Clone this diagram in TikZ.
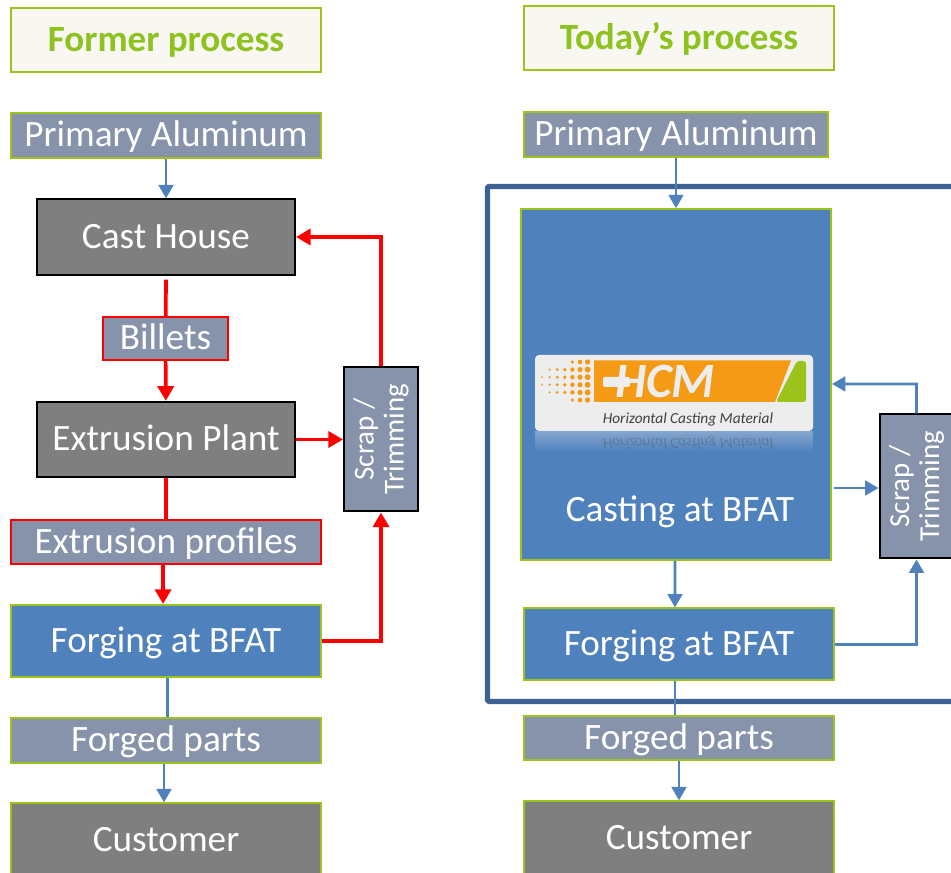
\documentclass[tikz,border=0pt]{standalone}
\usepackage{fontspec}
\setmainfont{Carlito}
\usetikzlibrary{arrows.meta,fadings}
\definecolor{boxgreen}{HTML}{9BC31C}
\definecolor{titlegreen}{HTML}{8DC21F}
\definecolor{titlefill}{HTML}{F8F7F1}
\definecolor{slate}{HTML}{8793AB}
\definecolor{darkgrey}{HTML}{7F7F7F}
\definecolor{flowblue}{HTML}{4F81BD}
\definecolor{framenavy}{HTML}{3D6291}
\definecolor{logoorange}{HTML}{F49A14}
\definecolor{logogrey}{HTML}{EDEDED}
\begin{document}
\begin{tikzpicture}[
    x=0.75pt,
    y=-0.75pt,
    basebox/.style={
        rectangle,
        inner sep=0pt,
        line width=1.5pt,
        text=white,
        font=\fontsize{27.9}{30}\selectfont,
        align=center,
        text height=18pt,
        text depth=1pt
    },
    titlebox/.style={
        basebox,
        draw=boxgreen,
        fill=titlefill,
        text=titlegreen,
        font=\fontsize{27.8}{30}\selectfont\bfseries,
        minimum width=232.5pt,
        minimum height=48pt
    },
    goods/.style={
        basebox,
        draw=boxgreen,
        fill=slate,
        minimum width=232.5pt,
        minimum height=33.5pt
    },
    redgoods/.style={
        goods,
        draw=red
    },
    plant/.style={
        basebox,
        draw=black,
        fill=darkgrey,
        minimum width=193.5pt,
        minimum height=56.5pt
    },
    customer/.style={
        basebox,
        draw=boxgreen,
        fill=darkgrey,
        minimum width=232.5pt,
        minimum height=55pt
    },
    forge/.style={
        basebox,
        draw=boxgreen,
        fill=flowblue,
        minimum width=232.5pt,
        minimum height=54pt
    },
    scrapbox/.style={
        basebox,
        draw=black,
        fill=slate,
        font=\fontsize{21.7}{22.5}\selectfont,
        text height=,
        text depth=,
        minimum width=108pt,
        minimum height=55.5pt,
        rotate=90
    },
    bluearrow/.style={
        -{Triangle[length=10pt,width=11pt]},
        draw=flowblue,
        line width=2pt
    },
    blueline/.style={
        draw=flowblue,
        line width=2pt
    },
    redarrow/.style={
        -{Triangle[length=11pt,width=12pt]},
        draw=red,
        line width=2.8pt
    },
    redline/.style={
        draw=red,
        line width=2.8pt
    }
]
\useasboundingbox (0,0) rectangle (951,873);

% Frame
\draw[framenavy, line width=3.8pt, rounded corners=1pt] (960,186.5) -- (487.5,186.5) -- (487.5,701.5) -- (960,701.5);

% Former process
\node[titlebox] (title1) at (166,40) {Former process};
\node[goods] (prim1) at (166,135.5) {Primary Aluminum};
\node[plant] (cast1) at (166,237) {Cast House};
\node[redgoods, minimum width=93.5pt, minimum height=32pt] (billets) at (165.5,338.5) {Billets};
\node[plant] (extr1) at (166,439.5) {Extrusion Plant};
\node[redgoods] (prof1) at (166,542) {Extrusion profiles};
\node[forge] (forg1) at (166,641) {Forging at BFAT};
\node[goods] (parts1) at (166,740.5) {Forged parts};
\node[customer] (cust1) at (166,840) {Customer};
\node[scrapbox] (scrap1) at (381,439.5) {Scrap /\\Trimming};

% Today's process
\node[titlebox] (title2) at (679,38) {Today’s process};
\node[goods, minimum width=228pt] (prim2) at (676,134.5) {Primary Aluminum};
\node[basebox, draw=boxgreen, fill=flowblue, minimum width=232.5pt, minimum height=263pt, text height=, text depth=] (cast2) at (676,384.5) {};
\node[basebox, inner sep=0pt] (castlabel) at (680,510) {Casting at BFAT};
\node[forge] (forg2) at (679,644.5) {Forging at BFAT};
\node[goods, minimum height=33pt] (parts2) at (679,738) {Forged parts};
\node[customer] (cust2) at (679,838) {Customer};
\node[scrapbox] (scrap2) at (916.5,486.5) {Scrap /\\Trimming};

% Logo
\fill[logogrey, path fading=south, opacity=0.35] (535,431) rectangle (813,452);
\fill[logogrey, rounded corners=3pt] (535,355) rectangle (813,431);
\fill[logoorange] (594,360.5) -- (791,360.5) -- (775,402) -- (594,402) -- cycle;
\fill[boxgreen, rounded corners=2pt] (797,361) -- (806,361) -- (806,402) -- (776,402) -- cycle;
\foreach \dotx/\doty/\dotsize in {0/2/1,0/3/1,1/1/1.2,1/2/1.3,1/3/1.3,1/4/1.2,2/1/1.6,2/2/1.6,2/3/1.6,2/4/1.6,3/1/1.9,3/2/1.9,3/3/1.9,3/4/1.9,4/0/1.8,4/1/2.2,4/2/2.2,4/3/2.2,4/4/2.2,4/5/1.8,5/0/2.3,5/1/2.6,5/2/2.6,5/3/2.6,5/4/2.6,5/5/2.3,6/0/2.7,6/1/3,6/2/3,6/3/3,6/4/3,6/5/2.7}
    \fill[logoorange] (542+7.6*\dotx,362+7.6*\doty) circle[radius=\dotsize];
\node[inner sep=0pt, text=logogrey, font=\fontsize{37}{37}\selectfont\bfseries\itshape] (hcmtext) at (665,381) {HCM};
\fill[logogrey, rounded corners=1.5pt] (603,377) rectangle (630,387);
\node[inner sep=0pt, text=black!75, font=\fontsize{11.5}{12}\selectfont\itshape] (hcmsub) at (688,419.5) {Horizontal Casting Material};
\node[inner sep=0pt, yscale=-1, text=black!75, opacity=0.3, font=\fontsize{11.5}{12}\selectfont\itshape] (hcmmirror) at (688,443) {Horizontal Casting Material};

% Arrows, former process
\coordinate (bendA) at (381,641);
\coordinate (bendB) at (381,237);
\draw[bluearrow] (prim1) -- (cast1);
\draw[redline] ([yshift=-3pt]cast1.south) -- (billets);
\draw[redarrow] (billets) -- (extr1);
\draw[redline] (extr1) -- (prof1);
\draw[redarrow] ([xshift=-2.2pt]prof1.south) -- ([xshift=-2.2pt]forg1.north);
\draw[blueline] ([xshift=1pt]forg1.south) -- ([xshift=1pt]parts1.north);
\draw[bluearrow] ([xshift=-1.5pt]parts1.south) -- ([xshift=-1.5pt]cust1.north);
\draw[redarrow] (extr1) -- (scrap1);
\draw[redarrow] (forg1) -- (bendA) -- (scrap1);
\draw[redarrow] (scrap1) -- (bendB) -- (cast1);

% Arrows, today's process
\coordinate (bendC) at (916.5,644.5);
\coordinate (bendD) at (916.5,384);
\coordinate (castout) at (834,488);
\draw[bluearrow] (prim2) -- (cast2);
\draw[bluearrow] ([xshift=-0.7pt]cast2.south) -- ([xshift=-3pt]forg2.north);
\draw[blueline] ([xshift=-3pt]forg2.south) -- ([xshift=-3pt]parts2.north);
\draw[bluearrow] (parts2) -- (cust2);
\draw[bluearrow] (castout) -- (castout -| scrap2.north);
\draw[bluearrow] (forg2) -- (bendC) -- (scrap2);
\draw[bluearrow] (scrap2) -- (bendD) -- ([yshift=0.4pt]cast2.east);
\end{tikzpicture}
\end{document}
